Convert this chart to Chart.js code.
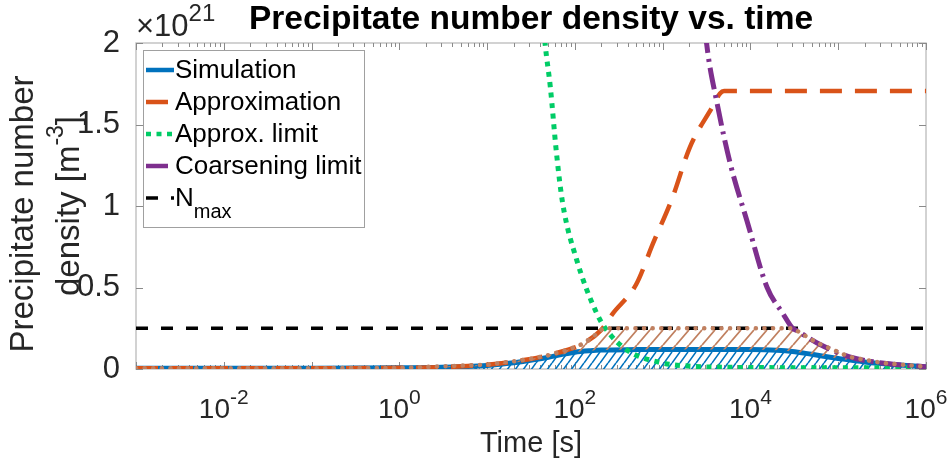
<!DOCTYPE html>
<html><head><meta charset="utf-8">
<script src="https://cdn.jsdelivr.net/npm/chart.js@4.4.1/dist/chart.umd.min.js"></script>
<style>html,body{margin:0;padding:0;background:#fff}</style>
</head><body>
<canvas id="c" width="951" height="468"></canvas>
<script>
// ---- data (values in units of 1e21 m^-3) ----
const simTime  = [1e-3, 1e-2, 1e-1, 1, 3, 10, 20, 30, 50, 70, 100, 150, 200, 500, 1e3, 1e4, 2e4, 3e4, 5e4, 1e5, 2e5, 5e5, 1e6];
const simValue = [0.005, 0.005, 0.005, 0.007, 0.01, 0.022, 0.038, 0.052, 0.072, 0.088, 0.103, 0.112, 0.116, 0.119, 0.12, 0.119, 0.115, 0.108, 0.09, 0.065, 0.043, 0.024, 0.013];

const approxTime  = [1e-3, 1e-1, 1, 10, 30, 50, 80, 115, 200, 270, 500, 776, 1300, 2040, 3700, 4500, 5000, 1e6];
const approxValue = [0.005, 0.005, 0.007, 0.026, 0.06, 0.085, 0.115, 0.147, 0.24, 0.34, 0.52, 0.77, 1.055, 1.36, 1.61, 1.69, 1.705, 1.705];

const limitTime  = [39.8, 45.7, 52.5, 61.7, 72.4, 104.7, 177.8, 229, 389, 933, 1995, 5012, 1e4, 1e6];
const limitValue = [2.4, 2.0, 1.73, 1.325, 1.02, 0.67, 0.34, 0.24, 0.117, 0.04, 0.018, 0.011, 0.009, 0.007];

const coarseTime  = [2818, 3162, 4169, 5888, 9120, 15490, 23440, 30200, 33880, 57540, 134900, 316200, 1e6];
const coarseValue = [2.3, 2.0, 1.63, 1.26, 0.91, 0.50, 0.34, 0.25, 0.235, 0.16, 0.074, 0.037, 0.013];

const nmaxTime  = [1e-3, 1e6];
const nmaxValue = [0.25, 0.25];

const boundTime  = [1e-3, 1e-1, 1, 10, 30, 50, 80, 115, 150, 200, 210, 30200, 33880, 57540, 134900, 316200, 1e6];
const boundValue = [0.005, 0.005, 0.007, 0.026, 0.06, 0.085, 0.115, 0.147, 0.185, 0.24, 0.25, 0.25, 0.235, 0.16, 0.074, 0.037, 0.014];

const xTickExponents = [-2, 0, 2, 4, 6];
const yTickLabels = ['0', '0.5', '1', '1.5', '2'];
const legendLabels = ['Simulation', 'Approximation', 'Approx. limit', 'Coarsening limit', 'N'];

// ---- helpers ----
const pts = (t, v) => t.map((x, i) => ({x: x, y: v[i]}));
const FONT = '"Liberation Sans", Arial, Helvetica, sans-serif';
function hatch(color, w, h, lw) {
  const c = document.createElement('canvas'); c.width = w; c.height = h;
  const g = c.getContext('2d');
  g.strokeStyle = color; g.lineWidth = lw;
  g.beginPath();
  g.moveTo(0, h); g.lineTo(w, 0);
  g.moveTo(-w, h); g.lineTo(0, 0);
  g.moveTo(w, h); g.lineTo(2 * w, 0);
  g.moveTo(-w/2, h*1.5); g.lineTo(w*1.5, -h/2);
  g.stroke();
  return g.createPattern(c, 'repeat');
}
const BLUE = '#0072BD', ORANGE = '#D95319', GREEN = '#00CC66', PURPLE = '#7E2F8E', BROWN = 'rgb(192,128,96)';
const STYLES = [
  {color: BLUE, dash: [], width: 5},
  {color: ORANGE, dash: [22, 13], width: 4.5},
  {color: GREEN, dash: [5, 5.5], width: 5},
  {color: PURPLE, dash: [22, 6, 3, 6], width: 5},
  {color: '#000', dash: [12, 13], width: 3.5}
];

function drawSup(ctx, base, sup, x, y, bs, ss, rise, align) {
  ctx.font = bs + 'px ' + FONT;
  const wb = ctx.measureText(base).width;
  ctx.font = ss + 'px ' + FONT;
  const ws = ctx.measureText(sup).width;
  let x0 = x;
  if (align === 'center') x0 = x - (wb + ws) / 2;
  ctx.textAlign = 'left';
  ctx.font = bs + 'px ' + FONT;
  ctx.fillText(base, x0, y);
  ctx.font = ss + 'px ' + FONT;
  ctx.fillText(sup, x0 + wb, y - rise);
}

const decor = {
  id: 'decor',
  beforeDatasetsDraw(chart) {
    const {ctx, chartArea: a, scales: {x, y}} = chart;
    ctx.save();
    ctx.strokeStyle = '#c4c4c4'; ctx.lineWidth = 1.5;
    ctx.strokeRect(a.left, a.top, a.right - a.left, a.bottom - a.top);
    ctx.strokeStyle = '#8a8a8a'; ctx.lineWidth = 1;
    ctx.beginPath();
    for (let k = -3; k <= 6; k++) {
      for (let m = 1; m <= 9; m++) {
        const v = m * Math.pow(10, k);
        if (v < 1e-3 || v > 1e6) continue;
        const px = Math.round(x.getPixelForValue(v)) + 0.5;
        const len = (m === 1) ? 7 : 4;
        ctx.moveTo(px, a.top); ctx.lineTo(px, a.top + len);
        ctx.moveTo(px, a.bottom); ctx.lineTo(px, a.bottom - len);
      }
    }
    for (let i = 0; i < yTickLabels.length; i++) {
      const py = Math.round(y.getPixelForValue(i * 0.5)) + 0.5;
      ctx.moveTo(a.left, py); ctx.lineTo(a.left + 7, py);
      ctx.moveTo(a.right, py); ctx.lineTo(a.right - 7, py);
    }
    ctx.stroke();
    ctx.restore();
  },
  afterDraw(chart) {
    const {ctx, chartArea: a, scales: {x, y}} = chart;
    ctx.save();
    ctx.fillStyle = '#262626';
    ctx.textBaseline = 'alphabetic';
    // x tick labels
    xTickExponents.forEach(e => {
      const px = x.getPixelForValue(Math.pow(10, e));
      drawSup(ctx, '10', String(e), px, 418, 28, 21, 14, 'center');
    });
    // x title
    ctx.font = '29px ' + FONT; ctx.textAlign = 'center';
    ctx.fillText('Time [s]', (a.left + a.right) / 2, 452);
    // y title (rotated), two lines
    const YF = 33, YS = 23;
    ctx.save();
    ctx.translate(33, 214);
    ctx.rotate(-Math.PI / 2);
    ctx.font = YF + 'px ' + FONT; ctx.textAlign = 'center';
    ctx.fillText('Precipitate number', 0, 0);
    ctx.restore();
    ctx.save();
    ctx.translate(79, 206);
    ctx.rotate(-Math.PI / 2);
    ctx.font = YF + 'px ' + FONT;
    const w1 = ctx.measureText('density [m').width;
    ctx.font = YS + 'px ' + FONT;
    const w2 = ctx.measureText('-3').width;
    ctx.font = YF + 'px ' + FONT;
    const w3 = ctx.measureText(']').width;
    let sx = -(w1 + w2 + w3) / 2;
    ctx.textAlign = 'left';
    ctx.fillText('density [m', sx, 0);
    ctx.font = YS + 'px ' + FONT;
    ctx.fillText('-3', sx + w1, -16);
    ctx.font = YF + 'px ' + FONT;
    ctx.fillText(']', sx + w1 + w2, 0);
    ctx.restore();
    // exponent label
    drawSup(ctx, '\u00d710', '21', 136, 36, 31, 24, 15, 'left');
    // title
    ctx.fillStyle = '#000';
    ctx.font = 'bold 33.5px ' + FONT; ctx.textAlign = 'center';
    ctx.fillText('Precipitate number density vs. time', (a.left + a.right) / 2, 29);
    // legend
    ctx.fillStyle = '#fff'; ctx.strokeStyle = '#a0a0a0'; ctx.lineWidth = 1;
    ctx.fillRect(143.5, 50.5, 221, 177);
    ctx.strokeRect(143.5, 50.5, 221, 177);
    const rows = [70, 102, 134, 166, 198];
    rows.forEach((ry, i) => {
      const s = STYLES[i];
      ctx.save();
      ctx.beginPath();
      ctx.rect(146, ry - 5, 28, 10); ctx.clip();
      ctx.strokeStyle = s.color; ctx.lineWidth = Math.min(s.width, 4.5); ctx.setLineDash(s.dash);
      ctx.beginPath(); ctx.moveTo(146, ry); ctx.lineTo(174, ry); ctx.stroke();
      ctx.restore();
      ctx.fillStyle = '#000'; ctx.textAlign = 'left'; ctx.textBaseline = 'middle';
      ctx.font = '26px ' + FONT;
      ctx.fillText(legendLabels[i], 175, ry + 1);
      if (i === 4) {
        const wn = ctx.measureText('N').width;
        ctx.font = '20px ' + FONT;
        ctx.fillText('max', 175 + wn, ry + 14);
      }
    });
    ctx.restore();
  }
};

new Chart(document.getElementById('c'), {
  type: 'line',
  data: {
    datasets: [
      {label: 'boundLine', data: pts(boundTime, boundValue), borderColor: BROWN, borderWidth: 4.5,
       borderDash: [0.1, 8.5], borderCapStyle: 'round', fill: false, order: 0, tension: 0},
      {label: 'Coarsening limit', data: pts(coarseTime, coarseValue), borderColor: PURPLE, borderWidth: 5,
       borderDash: STYLES[3].dash, fill: false, order: 1, cubicInterpolationMode: 'monotone'},
      {label: 'Approx. limit', data: pts(limitTime, limitValue), borderColor: GREEN, borderWidth: 5,
       borderDash: STYLES[2].dash, fill: false, order: 2, cubicInterpolationMode: 'monotone'},
      {label: 'N_max', data: pts(nmaxTime, nmaxValue), borderColor: '#000', borderWidth: 3.5,
       borderDash: STYLES[4].dash, fill: false, order: 3},
      {label: 'boundFill', data: pts(boundTime, boundValue), borderWidth: 0, borderColor: 'rgba(0,0,0,0)',
       backgroundColor: hatch(BROWN, 13, 15, 1.8), fill: 6, order: 4, tension: 0},
      {label: 'Approximation', data: pts(approxTime, approxValue), borderColor: ORANGE, borderWidth: 4.5,
       borderDash: STYLES[1].dash, fill: false, order: 5, cubicInterpolationMode: 'monotone'},
      {label: 'Simulation', data: pts(simTime, simValue), borderColor: BLUE, borderWidth: 5,
       backgroundColor: hatch(BLUE, 8, 11, 1.6), fill: 'origin', order: 6, cubicInterpolationMode: 'monotone'}
    ]
  },
  options: {
    responsive: false, animation: false, devicePixelRatio: 1,
    layout: {padding: {left: 0, right: 25, top: 43, bottom: 0}},
    elements: {point: {radius: 0}},
    plugins: {legend: {display: false}, title: {display: false}, tooltip: {enabled: false}},
    scales: {
      x: {type: 'logarithmic', min: 1e-3, max: 1e6, grid: {display: false}, border: {display: false},
          ticks: {display: false}, afterFit: s => { s.height = 99; }},
      y: {type: 'linear', min: 0, max: 2, grid: {display: false}, border: {display: false},
          ticks: {stepSize: 0.5, padding: 8, color: '#262626', font: {family: FONT, size: 31},
                  callback: (v, i) => yTickLabels[i]},
          afterFit: s => { s.width = 136; }}
    }
  },
  plugins: [decor]
});
</script>
</body></html>
